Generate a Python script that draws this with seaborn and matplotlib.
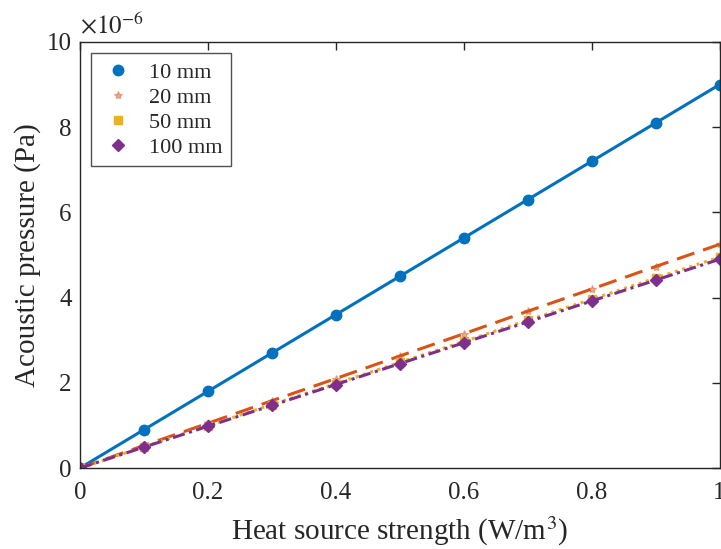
import seaborn as sns
import matplotlib.pyplot as plt
import pandas as pd
import numpy as np
from matplotlib.lines import Line2D
from matplotlib.ticker import FuncFormatter

# heat source strength (W/m^3)
strength = [0, 0.1, 0.2, 0.3, 0.4, 0.5, 0.6, 0.7, 0.8, 0.9, 1.0]
# acoustic pressure, in units of 1e-6 Pa
p_10mm = [0, 0.90, 1.80, 2.70, 3.60, 4.50, 5.40, 6.30, 7.20, 8.10, 9.00]
p_20mm = [0, 0.53, 1.05, 1.58, 2.10, 2.63, 3.15, 3.68, 4.20, 4.73, 5.25]
p_50mm = [0, 0.50, 0.99, 1.49, 1.98, 2.48, 2.97, 3.47, 3.96, 4.46, 4.95]
p_100mm = [0, 0.49, 0.98, 1.47, 1.96, 2.45, 2.94, 3.43, 3.92, 4.41, 4.90]
labels = ["10 mm", "20 mm", "50 mm", "100 mm"]

sns.set_theme(style="white")
plt.rcParams['font.family'] = ['Liberation Serif', 'DejaVu Serif']
plt.rcParams['mathtext.fontset'] = 'stix'

colors = ["#0072BD", "#D95319", "#EDB120", "#7E2F8E"]
styles = [((), "o", 7.5), ((6, 3), "*", 6), ((1, 1.5), "s", 6), ((4, 1.5, 1, 1.5), "D", 6)]
series = [p_10mm, p_20mm, p_50mm, p_100mm]

fig = plt.figure(figsize=(7.21, 5.49), dpi=100)
ax = fig.add_axes([0.111, 0.1475, 0.887, 0.776])

handles = []
for vals, lab, col, (dash, mk, ms) in zip(series, labels, colors, styles):
    df = pd.DataFrame({"x": strength, "y": np.array(vals) * 1e-6})
    line_ax = sns.lineplot(data=df, x="x", y="y", ax=ax, color=col, linewidth=2.2,
                           legend=False)
    ln = line_ax.lines[-1]
    if dash:
        ln.set_dashes(dash)
    mk_alpha = 0.45 if mk == "*" else 1.0
    ax.plot(df["x"], df["y"], linestyle="none", marker=mk, markersize=ms,
            color=col, alpha=mk_alpha)
    handles.append(Line2D([], [], color=col, linestyle="none", marker=mk,
                          markersize=ms, alpha=mk_alpha))

ax.set_xlim(0, 1)
ax.set_ylim(0, 10e-6)
ax.set_xticks([0, 0.2, 0.4, 0.6, 0.8, 1.0])
ax.set_xticklabels(["0", "0.2", "0.4", "0.6", "0.8", "1"])
ax.set_yticks(np.arange(0, 11, 2) * 1e-6)
ax.yaxis.set_major_formatter(FuncFormatter(lambda v, p: f"{v * 1e6:g}"))
ax.text(0.0, 1.008, r"$\times10^{-6}$", transform=ax.transAxes, fontsize=18,
        color="#262626", ha="left", va="bottom")

ax.tick_params(direction="in", top=True, right=True, length=6, width=1,
               labelsize=18, color="#262626", labelcolor="#262626")
ax.tick_params(axis="x", pad=10)
ax.tick_params(axis="y", pad=6)
for s in ax.spines.values():
    s.set_color("#262626")
    s.set_linewidth(1)

ax.set_xlabel("Heat source strength (W/m$^3$)", fontsize=21, color="#262626", labelpad=8)
ax.set_ylabel("Acoustic pressure (Pa)", fontsize=21, color="#262626", labelpad=4)

leg = ax.legend(handles, labels, loc="upper left", fontsize=16, frameon=True,
                fancybox=False, edgecolor="#262626", borderaxespad=0.5,
                handlelength=1.6, handletextpad=0.6, labelspacing=0.2, borderpad=0.4)
leg.get_frame().set_linewidth(1)

plt.savefig("out.png", dpi=100)
